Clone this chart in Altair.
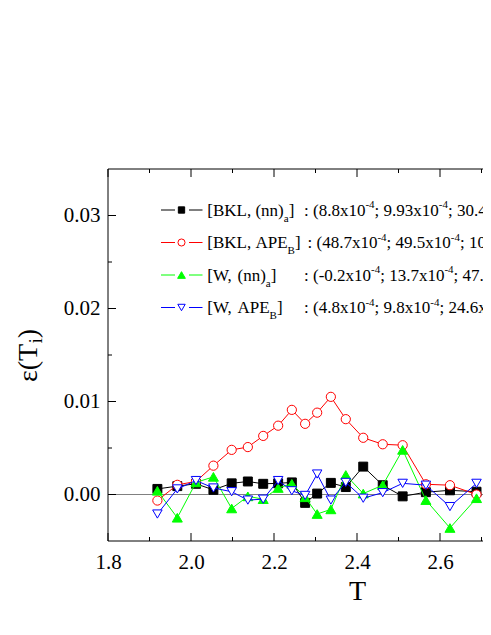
import altair as alt
import pandas as pd

# ---------------- data ----------------
T = [1.919, 1.967, 2.012, 2.054, 2.098, 2.137, 2.174, 2.210, 2.243, 2.275,
     2.304, 2.337, 2.373, 2.415, 2.462, 2.510, 2.566, 2.624, 2.688]
bkl_nn = [0.0006, 0.0009, 0.00115, 0.0005, 0.0012, 0.0014, 0.00115, 0.0012, 0.0013, -0.0009,
          0.0001, 0.00125, 0.0008, 0.0030, 0.0010, -0.0002, 0.00025, 0.00045, 0.0003]
bkl_ape = [-0.00065, 0.00104, 0.0014, 0.0031, 0.0048, 0.0051, 0.0063, 0.0074, 0.0091, 0.0076,
           0.0088, 0.0105, 0.0081, 0.0061, 0.0054, 0.0053, 0.0011, 0.0010, 0.0000]
w_nn = [0.0004, -0.0025, 0.0013, 0.0019, -0.0015, -0.0002, -0.0005, 0.0007, 0.00115, -0.0003,
        -0.0021, -0.0016, 0.0021, 0.0001, 0.0010, 0.0048, -0.0006, -0.0036, -0.0004]
w_ape = [-0.0021, 0.0006, 0.0015, 0.0007, 0.0003, -0.0006, -0.0005, 0.0015, 0.0004, -0.0001,
         0.0022, -0.0006, 0.0013, -0.0004, 0.0002, 0.0012, 0.0010, -0.0013, 0.0012]

series_values = [bkl_nn, bkl_ape, w_nn, w_ape]
series_main = ["[BKL, (nn)", "[BKL, APE", "[W, (nn)", "[W, APE"]
series_sub = ["a", "B", "a", "B"]
series_stats = [["8.8", "9.93", "30.4"],
                ["48.7", "49.5", "101.6"],
                ["-0.2", "13.7", "47.3"],
                ["4.8", "9.8", "24.6"]]

x_major = [1.8, 2.0, 2.2, 2.4, 2.6]
x_minor = [1.9, 2.1, 2.3, 2.5, 2.7]
y_major = [0.0, 0.01, 0.02, 0.03]
y_minor = [0.005, 0.015, 0.025]

# ---------------- styles / layout ----------------
FONT = "Liberation Serif"
PX_PER_T = 415.0                 # pixels per unit of T in the reference
W, H = 375, 372                  # visible part of the plot area (the rest is off-page)
OVER = 10                        # frame and zero line run on past the page edge
X_MAX = 1.8 + W / PX_PER_T
colors = ["#000000", "#FF0000", "#00FF00", "#0000FF"]
shapes = ["square", "circle", "triangle-up", "triangle-down"]
filled = [True, False, True, False]
msize = [80, 85, 100, 90]
lsize = [40, 50, 60, 55]

# Times / Liberation Serif advance widths (1/1000 em)
CW = {' ': 250, '(': 333, ')': 333, ',': 250, '-': 333, '.': 250, ':': 278, ';': 278,
      '[': 333, ']': 333, 'A': 722, 'B': 667, 'E': 611, 'K': 722, 'L': 611, 'P': 556,
      'T': 611, 'W': 944, 'a': 444, 'i': 278, 'n': 500, 'x': 500, 'ε': 440}
for d in "0123456789":
    CW[d] = 500


def tw(s, fs):
    return sum(CW.get(c, 500) for c in s) * fs / 1000.0


xs = alt.Scale(domain=[1.8, X_MAX], nice=False, zero=False)
ys = alt.Scale(domain=[-0.005, 0.035], nice=False, zero=False)

xaxis = alt.Axis(values=x_major, format=".1f", ticks=False, tickSize=0, domain=False, grid=False,
                 labelFont=FONT, labelFontSize=21, labelColor="black", labelPadding=10,
                 labelFlush=False, title="T", titleFont=FONT, titleFontSize=28,
                 titleFontWeight="normal", titleColor="black", titleBaseline="alphabetic",
                 titleX=249, titleY=58)
yaxis = alt.Axis(values=y_major, format=".2f", ticks=False, tickSize=0, domain=False, grid=False,
                 labelFont=FONT, labelFontSize=21, labelColor="black", labelPadding=8,
                 title=None)

layers = []
one = pd.DataFrame({"k": [0]})

# zero line (first layer carries the axes)
zero = alt.Chart(pd.DataFrame({"z": [0.0]})).mark_rule(
    color="#808080", strokeWidth=1).encode(
    y=alt.Y("z:Q", scale=ys, axis=yaxis),
    x=alt.value(0), x2=alt.value(W + OVER))
axes_layer = alt.Chart(pd.DataFrame({"x": [1.8], "y": [0.0]})).mark_point(opacity=0).encode(
    x=alt.X("x:Q", scale=xs, axis=xaxis),
    y=alt.Y("y:Q", scale=ys, axis=None))
layers += [axes_layer, zero]

# series
for i, vals in enumerate(series_values):
    df = pd.DataFrame({"T": T, "v": vals})
    ln = alt.Chart(df).mark_line(color=colors[i], strokeWidth=1).encode(
        x=alt.X("T:Q", scale=xs, axis=None),
        y=alt.Y("v:Q", scale=ys, axis=None))
    pt = alt.Chart(df).mark_point(
        shape=shapes[i], size=msize[i], filled=True,
        fill=colors[i] if filled[i] else "white",
        stroke=colors[i], strokeWidth=1, opacity=1).encode(
        x=alt.X("T:Q", scale=xs, axis=None),
        y=alt.Y("v:Q", scale=ys, axis=None))
    layers += [ln, pt]

# frame: top, left, bottom (right edge lies off the page)
layers.append(alt.Chart(one).mark_rule(color="black", strokeWidth=1).encode(
    x=alt.value(0), x2=alt.value(W + OVER), y=alt.value(0)))
layers.append(alt.Chart(one).mark_rule(color="black", strokeWidth=1).encode(
    x=alt.value(0), x2=alt.value(W + OVER), y=alt.value(H)))
layers.append(alt.Chart(one).mark_rule(color="black", strokeWidth=1).encode(
    x=alt.value(0), y=alt.value(0), y2=alt.value(H)))


# inward ticks
def xticks(vals, length):
    d = pd.DataFrame({"v": vals})
    bot = alt.Chart(d).mark_rule(color="black", strokeWidth=1).encode(
        x=alt.X("v:Q", scale=xs, axis=None), y=alt.value(H), y2=alt.value(H - length))
    top = alt.Chart(d).mark_rule(color="black", strokeWidth=1).encode(
        x=alt.X("v:Q", scale=xs, axis=None), y=alt.value(0), y2=alt.value(length))
    return [bot, top]


def yticks(vals, length):
    d = pd.DataFrame({"v": vals})
    left = alt.Chart(d).mark_rule(color="black", strokeWidth=1).encode(
        y=alt.Y("v:Q", scale=ys, axis=None), x=alt.value(0), x2=alt.value(length))
    return [left]


layers += xticks(x_major, 8) + xticks(x_minor, 4) + yticks(y_major, 8) + yticks(y_minor, 4)

# ---------------- legend (drawn inside the plot) ----------------
pieces = []


def put(text, x, y, fs):
    cx = x
    for j, seg in enumerate(text.split(" ")):
        if j > 0:
            cx += tw(" ", fs)
        if seg:
            pieces.append({"px": cx, "py": y, "t": seg, "fs": fs})
        cx += tw(seg, fs)
    return cx


row_y0, row_dy = 41.0, 32.5
colon_x = [196.0, 199.5, 196.0, 196.0]
name_x = 99.3
FS, FSS = 17, 11
for i in range(4):
    cy = row_y0 + row_dy * i
    yb = cy + 5.7
    x = put(series_main[i], name_x, yb, FS)
    x = put(series_sub[i], x, yb + 6, FSS)
    put("]", x, yb, FS)
    st = series_stats[i]
    x = put(": (" + st[0] + "x10", colon_x[i], yb, FS)
    x = put("-4", x, yb - 7.4, FSS)
    x = put("; " + st[1] + "x10", x, yb, FS)
    x = put("-4", x, yb - 7.4, FSS)
    x = put("; " + st[2] + "x10", x, yb, FS)
    x = put("-4", x, yb - 7.4, FSS)
    put(")", x, yb, FS)
    # legend line segments and marker
    for (a, b) in [(53, 67), (81, 94.5)]:
        layers.append(alt.Chart(one).mark_rule(
            color=colors[i], strokeWidth=1).encode(
            x=alt.value(a), x2=alt.value(b), y=alt.value(cy)))
    layers.append(alt.Chart(one).mark_point(
        shape=shapes[i], size=lsize[i], filled=True,
        fill=colors[i] if filled[i] else "white",
        stroke=colors[i], strokeWidth=1, opacity=1).encode(
        x=alt.value(73.5), y=alt.value(cy)))

legend_text = alt.Chart(pd.DataFrame(pieces)).mark_text(
    align="left", baseline="alphabetic", font=FONT, color="black").encode(
    x=alt.X("px:Q", scale=None, axis=None),
    y=alt.Y("py:Q", scale=None, axis=None),
    size=alt.Size("fs:Q", scale=None, legend=None),
    text="t:N")
layers.append(legend_text)

# ---------------- y title  ε(T_i)  (rotated) ----------------
ypieces = []
tx, ty = -71.0, 213.0
TF, TFS = 28, 18
ypieces.append({"px": tx, "py": ty, "t": "ε(T", "fs": TF})
ty -= tw("ε(T", TF)
ypieces.append({"px": tx + 5, "py": ty, "t": "i", "fs": TFS})
ty -= tw("i", TFS)
ypieces.append({"px": tx, "py": ty, "t": ")", "fs": TF})
ytitle = alt.Chart(pd.DataFrame(ypieces)).mark_text(
    align="left", baseline="alphabetic", font=FONT, color="black", angle=270).encode(
    x=alt.X("px:Q", scale=None, axis=None),
    y=alt.Y("py:Q", scale=None, axis=None),
    size=alt.Size("fs:Q", scale=None, legend=None),
    text="t:N")
layers.append(ytitle)

chart = alt.layer(*layers).resolve_scale(
    x="independent", y="independent", size="independent"
).properties(
    width=W, height=H,
    autosize=alt.AutoSizeParams(type="none"),
    padding={"left": 100, "top": 161, "right": 0, "bottom": 70},
    background="white",
).configure_view(strokeWidth=0)

chart.save("out.html", embed_options={"renderer": "svg", "actions": False})
